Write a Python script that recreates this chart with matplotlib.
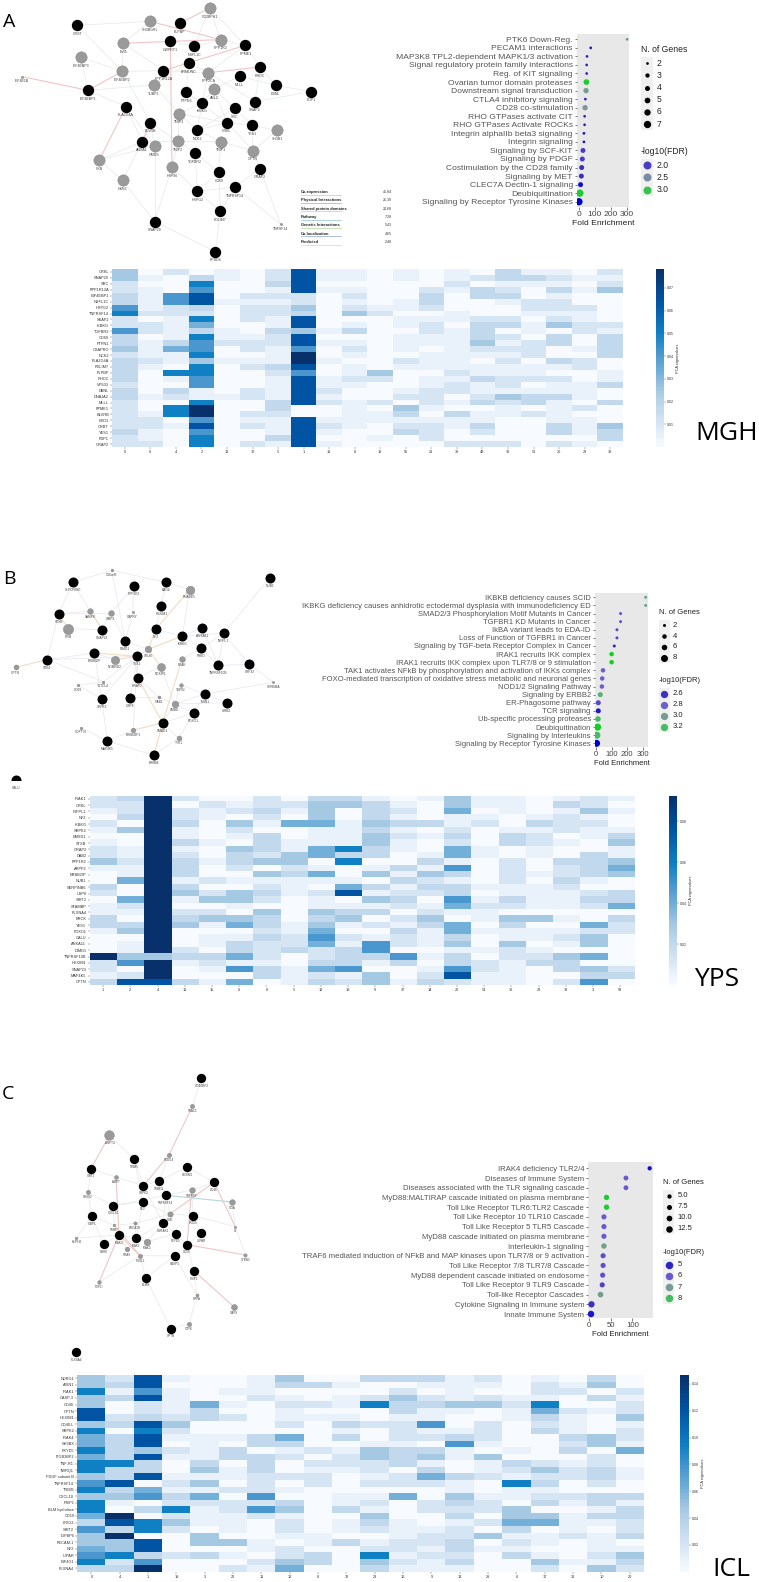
import numpy as np
import matplotlib
matplotlib.use('Agg')
import matplotlib.pyplot as plt
from matplotlib.colors import LinearSegmentedColormap, Normalize

plt.rcParams['font.family'] = ['Liberation Sans', 'DejaVu Sans']

W, H = 759, 1582

# heatmaps: one string per column, shade level 0-9 per row, top row first
MGH_GENES = ['CRKL', 'SNAP29', 'SRC', 'PPP1R12A', 'EIF4EBP1', 'NSFL1C', 'HSPG2', 'TNFRSF14', 'SKAP2', 'IKBKG',
             'TGFBR2', 'CD69', 'PTPN1', 'CSAPRO', 'NCK2', 'PLA2G4A', 'PDLIM7', 'PLPBP', 'RHOC', 'VPS33',
             'DBNL', 'DNAJA2', 'MLLL', 'PPME1', 'BLVRB', 'KXD1', 'CRBT', 'YES1', 'PDP1', 'GRAP2']
MGH_PCS = ['0', '6', '4', '2', '13', '17', '5', '1', '11', '8', '19', '55', '21', '39', '48', '30', '51', '26', '23', '38']
MGH_VALUES = ["44223 36722 63342 33332 33222 22322", "01011 11202 20111 21000 01001 22112",
              "20006 62211 11351 10710 32077 01000", "03768 83275 37667 47766 11799 68677",
              "11000 10000 11200 10000 01000 00000", "00002 12220 01220 12000 22002 12002",
              "22312 12211 32211 13211 11332 11131", "88882 24388 48869 98688 88800 88888",
              "11010 00000 10100 10011 21200 12101", "11012 12401 30121 01121 00111 11000",
              "00000 01200 00000 00420 00201 10010", "11000 11011 01110 21000 12043 12300",
              "00023 32012 21101 11011 22210 12220", "11210 00110 11111 11212 20103 11002",
              "02033 00023 33421 01131 12301 13202", "33123 10023 02121 21122 14211 00002",
              "13100 22101 10222 01120 13302 00000", "12131 22124 03300 31021 13111 13302",
              "01010 02112 20010 22001 11020 11101", "21240 00002 13333 00113 00300 04330"]

YPS_GENES = ['IRAK1', 'CRKL', 'INPPL1', 'NF2', 'IKBKG', 'SRPK2', 'EMSD1', 'STXB', 'GRAP2', 'DAB2',
             'PPP1R2', 'ARPP2', 'ERBB2IP', 'NUB1', 'SERPINB6', 'USP8', 'SIRT2', 'STAMBP', 'PLXNA4', 'BRCK',
             'YES1', 'FOXO1', 'CALU', 'ANXA11', 'DIMD1', 'TNFRSF10B', 'HEXIM1', 'SNAP23', 'MAP4K5', 'OPTN']
YPS_PCS = ['1', '2', '4', '11', '15', '6', '8', '5', '12', '19', '9', '37', '14', '20', '54', '36', '23', '33', '3', '59']
YPS_VALUES = ["22102 10122 41003 20113 31000 92213", "32230 40011 21150 05210 34011 46028",
              "99999 99999 99999 99999 99999 49998", "20223 11312 33313 41023 40002 31003",
              "02110 00100 10020 24024 10110 32101", "01204 21043 32010 44104 50133 51605",
              "22321 03332 40412 32043 32322 21330", "02105 00114 42311 10000 11223 00111",
              "34445 11155 01510 21143 45652 23523", "34001 11173 70015 80134 10213 33612",
              "13334 34433 01403 14130 20166 31044", "01213 12110 03131 23202 13220 63001",
              "10003 01001 31423 20124 31110 10123", "44511 23255 16313 36510 55341 33682",
              "11012 00011 00001 01211 01001 02211", "11100 13300 22221 13204 31142 21111",
              "00013 12211 00101 11104 01101 23000", "13122 20100 32232 11101 01210 43302",
              "22412 11003 33310 23200 52440 50436", "10100 13411 45400 33503 22000 00230"]

ICL_GENES = ['NDRG1', 'AXIN1', 'IRAK1', 'CASP-3', 'CD46', 'OPTN', 'HEXIM1', 'CD40-L', 'SRPK2', 'IRAK4',
             'SH3BX', 'FXYD5', 'ITGB3BP2', 'TNF-R1', 'TWRQ1', 'PDGF subunit B', 'TNFRSF14', 'TRIM5', 'CXCL10', 'PSIP1',
             'BLM hydrolase', 'CD59', 'LRIG3', 'SIRT2', 'IGFBP6', 'PECAM-1', 'NF2', 'U-PAR', 'EIF4G1', 'PLXNA4']
ICL_PCS = ['0', '4', '1', '19', '3', '22', '11', '12', '8', '32', '23', '16', '9', '13', '29', '6', '17', '31', '10', '20']
ICL_VALUES = ["44744 88475 57577 46747 75364 45673", "23130 02303 33373 38341 09839 44723",
              "88682 23878 84833 80560 30770 88369", "10111 12421 02100 12132 72420 00200",
              "00005 33001 11134 14152 11104 40300", "00101 02001 03301 10202 21110 40102",
              "11120 00003 30333 22262 62000 11021", "43012 11205 31200 20103 41221 02245",
              "03002 01000 02021 22000 00001 10330", "01011 01313 01221 00011 30110 30000",
              "30027 00200 14422 12012 14320 12743", "30243 31222 13330 22050 00111 22121",
              "31023 11612 03413 52002 20012 21211", "11114 10013 61100 31143 23122 33231",
              "21024 00222 10411 20012 20204 01000", "00012 11000 01032 17110 44531 21300",
              "12217 53230 00024 23123 04501 10142", "01200 21113 23012 20021 01112 00010",
              "34030 10004 40223 32033 13101 11214", "00212 24122 15001 10031 33223 01432"]

# shade level -> fraction of the colorbar maximum
SHADE_FRACTION = [0.0, 0.06, 0.13, 0.22, 0.32, 0.42, 0.52, 0.64, 0.82, 1.0]
SHADE_COLORS = ['#f7fbff', '#e9f2fb', '#d6e5f4', '#c2d8ec', '#a5c8e3', '#73b0d9', '#4a98cf', '#0f80c4', '#0054a3', '#08306b']

# enrichment dot plots
A_PATHWAYS = ['PTK6 Down-Reg.', 'PECAM1 interactions', 'MAP3K8 TPL2-dependent MAPK1/3 activation',
              'Signal regulatory protein family interactions', 'Reg. of KIT signaling', 'Ovarian tumor domain proteases',
              'Downstream signal transduction', 'CTLA4 inhibitory signaling', 'CD28 co-stimulation',
              'RHO GTPases activate CIT', 'RHO GTPases Activate ROCKs', 'Integrin alphaIIb beta3 signaling',
              'Integrin signaling', 'Signaling by SCF-KIT', 'Signaling by PDGF', 'Costimulation by the CD28 family',
              'Signaling by MET', 'CLEC7A Dectin-1 signaling', 'Deubiquitination', 'Signaling by Receptor Tyrosine Kinases']
A_FOLD = [300, 75, 52, 50, 50, 48, 46, 42, 40, 37, 37, 33, 33, 27, 23, 19, 17, 12, 8, 2]
A_GENES = [2, 2, 2, 2, 2, 5, 4.5, 2, 4.5, 2, 2, 2, 2, 4, 4, 4, 4, 4, 7, 7]
A_FDR = [2.5, 1.75, 1.8, 1.8, 1.8, 3.1, 2.6, 1.8, 2.55, 1.8, 1.8, 1.7, 1.7, 2.0, 2.0, 1.9, 1.9, 1.7, 3.1, 1.6]

B_PATHWAYS = ['IKBKB deficiency causes SCID', 'IKBKG deficiency causes anhidrotic ectodermal dysplasia with immunodeficiency ED',
              'SMAD2/3 Phosphorylation Motif Mutants in Cancer', 'TGFBR1 KD Mutants in Cancer', 'IkBA variant leads to EDA-ID',
              'Loss of Function of TGFBR1 in Cancer', 'Signaling by TGF-beta Receptor Complex in Cancer', 'IRAK1 recruits IKK complex',
              'IRAK1 recruits IKK complex upon TLR7/8 or 9 stimulation', 'TAK1 activates NFkB by phosphorylation and activation of IKKs complex',
              'FOXO-mediated transcription of oxidative stress metabolic and neuronal genes', 'NOD1/2 Signaling Pathway',
              'Signaling by ERBB2', 'ER-Phagosome pathway', 'TCR signaling', 'Ub-specific processing proteases', 'Deubiquitination',
              'Signaling by Interleukins', 'Signaling by Receptor Tyrosine Kinases']
B_FOLD = [317, 317, 157, 157, 134, 134, 117, 100, 100, 45, 40, 38, 28, 15, 15, 13, 11, 6, 4]
B_GENES = [2, 2, 2, 2, 2, 2, 2, 4, 4, 4, 4, 4, 5, 5, 5, 6, 8, 8, 8]
B_FDR = [3.1, 3.1, 2.75, 2.75, 2.7, 2.7, 2.55, 3.35, 3.35, 2.8, 2.8, 2.8, 3.15, 2.7, 2.5, 3.2, 3.35, 3.2, 2.35]

C_PATHWAYS = ['IRAK4 deficiency TLR2/4', 'Diseases of Immune System', 'Diseases associated with the TLR signaling cascade',
              'MyD88:MALTIRAP cascade initiated on plasma membrane', 'Toll Like Receptor TLR6:TLR2 Cascade',
              'Toll Like Receptor 10 TLR10 Cascade', 'Toll Like Receptor 5 TLR5 Cascade', 'MyD88 cascade initiated on plasma membrane',
              'Interleukin-1 signaling', 'TRAF6 mediated induction of NFkB and MAP kinases upon TLR7/8 or 9 activation',
              'Toll Like Receptor 7/8 TLR7/8 Cascade', 'MyD88 dependent cascade initiated on endosome',
              'Toll Like Receptor 9 TLR9 Cascade', 'Toll-like Receptor Cascades', 'Cytokine Signaling in Immune system', 'Innate Immune System']
C_FOLD = [140, 85, 85, 40, 40, 34, 34, 34, 34, 32, 32, 31, 30, 26, 5, 4]
C_GENES = [5, 7, 7, 9, 9, 8, 8, 8, 9, 8, 8, 8, 8, 10, 12, 13]
C_FDR = [4.6, 6.0, 6.0, 8.4, 8.4, 6.0, 6.0, 6.0, 7.2, 5.8, 5.8, 5.8, 5.5, 7.2, 5.2, 4.7]

FDR_COLORS = [(0.0, '#0000d0'), (0.2, '#3a30c0'), (0.4, '#6a5acd'), (0.62, '#7a9a98'), (0.88, '#40c05c'), (1.0, '#10d020')]

# gene network panels: coordinates
NET_A_NAMES = ['CRST', 'SH3BGRL', 'PLPBP', 'CD2BPH1', 'EVI5', 'CWPRY1', 'NSFL1C', 'PPP1R2', 'PPME1', 'EIF4EBP3',
               'EIF4EBP2', 'PPP1R12A', 'BRMUNC', 'PPP2CA', 'RHOC', 'MLLL', 'DBNL', 'PDP1', 'EIF4EBP1', 'EIF4E1B',
               'TUBP1', 'PTPN3', 'ABL2', 'IKBKG', 'SNAP2', 'SRC', 'PLA2G4A', 'TNIP3', 'CRKL', 'YES1',
               'SH3B1', 'BLVRB', 'NCK2', 'ANXA1', 'TNIP2', 'TNIP1', 'GMDS', 'OPTN', 'TGFBR2', 'CKB',
               'HSP90', 'CD69', 'GRAP2', 'HXN2', 'TNFRSF14', 'HSPG2', 'PDLIM7', 'TNFSF14', 'SNAP29', 'KPSD4']
NET_A_X = [232, 450, 539, 629, 370, 511, 583, 662, 736, 243, 367, 490, 567, 625, 780, 719, 827, 933, 264, 67,
           462, 558, 642, 607, 765, 705, 378, 537, 681, 757, 831, 451, 592, 427, 534, 662, 464, 759, 585, 298,
           516, 657, 779, 368, 706, 592, 661, 842, 464, 646]
NET_A_Y = [76, 64, 70, 24, 130, 124, 139, 119, 136, 172, 214, 212, 189, 218, 201, 229, 256, 275, 271, 230,
           255, 277, 267, 308, 305, 325, 320, 341, 368, 376, 391, 368, 390, 425, 424, 425, 438, 452, 459, 480,
           501, 516, 506, 541, 561, 574, 634, 673, 665, 755]
NET_A_QUERY = [1, 0, 1, 0, 0, 1, 1, 0, 1, 0, 0, 1, 1, 0, 1, 1, 1, 1, 1, 0,
               0, 1, 0, 1, 1, 1, 1, 0, 1, 1, 0, 1, 1, 1, 0, 0, 0, 0, 1, 0,
               0, 1, 1, 0, 1, 1, 1, 0, 1, 1]
NET_A_GRAY = [34, 34, 34, 34, 34, 34, 34, 34, 34, 34, 34, 34, 34, 34, 34, 34, 34, 34, 34, 7,
              34, 34, 34, 34, 34, 34, 34, 34, 34, 34, 34, 34, 34, 34, 34, 34, 34, 34, 34, 34,
              34, 34, 34, 34, 34, 34, 34, 7, 34, 34]
NET_A_EDGES = [('CRST', 'SH3BGRL'), ('CRST', 'EIF4EBP2'), ('EIF4EBP3', 'EIF4EBP1'), ('EIF4EBP3', 'EIF4EBP2'), ('EVI5', 'EIF4EBP2'),
               ('EVI5', 'PPP1R12A'), ('EIF4EBP2', 'PPP1R12A'), ('EIF4EBP1', 'PLA2G4A'), ('EIF4EBP2', 'BLVRB'), ('PLA2G4A', 'ANXA1'),
               ('PLA2G4A', 'GMDS'), ('SH3BGRL', 'EVI5'), ('CD2BPH1', 'NSFL1C'), ('CD2BPH1', 'PPME1'), ('CD2BPH1', 'PPP1R2'),
               ('PLPBP', 'CWPRY1'), ('PPP1R2', 'PPME1'), ('PPME1', 'PPP2CA'), ('PPME1', 'RHOC'), ('RHOC', 'DBNL'), ('RHOC', 'SNAP2'),
               ('DBNL', 'PDP1'), ('DBNL', 'MLLL'), ('SNAP2', 'PDP1'), ('MLLL', 'ABL2'), ('ABL2', 'IKBKG'), ('ABL2', 'SRC'), ('ABL2', 'CRKL'),
               ('IKBKG', 'PTPN3'), ('IKBKG', 'TNIP3'), ('IKBKG', 'NCK2'), ('TNIP3', 'NCK2'), ('TNIP3', 'CRKL'), ('TNIP3', 'TNIP2'),
               ('NCK2', 'TNIP1'), ('CRKL', 'NCK2'), ('CRKL', 'YES1'), ('CRKL', 'OPTN'), ('SRC', 'CRKL'), ('SRC', 'YES1'), ('SRC', 'NCK2'),
               ('YES1', 'SH3B1'), ('YES1', 'OPTN'), ('SH3B1', 'OPTN'), ('OPTN', 'GRAP2'), ('OPTN', 'TNIP1'), ('TNIP1', 'TNIP2'),
               ('TNIP1', 'CD69'), ('TNIP2', 'TGFBR2'), ('TNIP2', 'HSP90'), ('TGFBR2', 'HSPG2'), ('TGFBR2', 'CD69'), ('HSP90', 'HSPG2'),
               ('HSP90', 'SNAP29'), ('CD69', 'HSPG2'), ('CD69', 'PDLIM7'), ('TNFRSF14', 'HSPG2'), ('TNFRSF14', 'PDLIM7'), ('TNFRSF14', 'TNFSF14'),
               ('GRAP2', 'TNFRSF14'), ('GRAP2', 'TNFSF14'), ('HSPG2', 'PDLIM7'), ('PDLIM7', 'KPSD4'), ('SNAP29', 'KPSD4'), ('SNAP29', 'GMDS'),
               ('SNAP29', 'HXN2'), ('HXN2', 'CKB'), ('HXN2', 'ANXA1'), ('CKB', 'ANXA1'), ('CKB', 'GMDS'), ('BLVRB', 'TNIP2'), ('BLVRB', 'GMDS'),
               ('TUBP1', 'TNIP3'), ('TUBP1', 'BRMUNC'), ('PPP1R12A', 'PPP2CA'), ('BRMUNC', 'PPP2CA'), ('BRMUNC', 'PTPN3'), ('CWPRY1', 'NSFL1C'),
               ('NSFL1C', 'PPP1R2'), ('PPP2CA', 'IKBKG'), ('PPP2CA', 'SNAP2'), ('ANXA1', 'TNIP2'), ('PTPN3', 'CRKL'), ('EIF4EBP1', 'TUBP1')]
NET_A_STRONG = [('CKB', 'PLA2G4A'), ('EVI5', 'CWPRY1'), ('CWPRY1', 'PPP1R2'), ('SH3BGRL', 'PPP1R2'), ('PPME1', 'PPP1R12A'), ('PPP2CA', 'RHOC'),
                ('PLPBP', 'CD2BPH1'), ('CWPRY1', 'HSP90'), ('EIF4EBP1', 'EIF4E1B'), ('EIF4EBP2', 'EIF4EBP1'), ('BLVRB', 'ANXA1')]

NET_B_NAMES = ['C16orf5', 'SLFCPKB0', 'PPP1R2', 'BAG4', 'RNASE5', 'NUB1', 'HEXIM1', 'STXB', 'VAMP8', 'WBP2',
               'CAPRY', 'PPIB', 'SNAP23', 'NF2', 'ANXA11', 'INPPL1', 'IKBKG', 'DIMD1', 'PSKD', 'ERBB2IP',
               'STUB', 'STK4', 'OPTN', 'NDMRD2', 'YES1', 'NCKIP1', 'PEAK', 'TNFRSF10B', 'SRF33', 'GRAP2',
               'TGFBI', 'TXTCL4', 'CD69', 'SERBMA', 'SRPK2', 'USP8', 'GAB1', 'SMBD', 'MSN1', 'SIRB2',
               'FOXO1', 'SMAD1', 'ERBB3IP1', 'CDFT70', 'MAP4K5', 'TYK1', 'ERBB4', 'CALU']
NET_B_X = [335, 218, 401, 498, 569, 809, 484, 176, 271, 333, 398, 204, 307, 467, 606, 671, 547, 376, 603, 283,
           445, 141, 47, 345, 412, 482, 546, 655, 748, 413, 543, 310, 235, 820, 305, 391, 477, 524, 615, 680,
           581, 488, 400, 244, 322, 536, 461, 47]
NET_B_Y = [61, 97, 109, 97, 119, 84, 167, 192, 183, 190, 187, 236, 239, 238, 233, 250, 258, 274, 295, 309,
           298, 329, 352, 330, 319, 350, 327, 346, 343, 383, 405, 395, 406, 397, 447, 443, 442, 462, 432, 458,
           489, 519, 540, 533, 573, 564, 616, 690]
NET_B_QUERY = [0, 1, 1, 1, 0, 1, 1, 1, 0, 0, 0, 0, 1, 1, 1, 1, 1, 1, 1, 1,
               0, 1, 0, 0, 1, 0, 0, 1, 1, 1, 0, 0, 0, 0, 1, 1, 0, 0, 1, 1,
               1, 1, 0, 0, 1, 0, 1, 1]
NET_B_GRAY = [8, 30, 30, 30, 26, 30, 30, 30, 17, 17, 7, 31, 30, 30, 30, 30, 30, 30, 30, 30,
              20, 30, 15, 25, 30, 24, 17, 30, 30, 30, 11, 8, 8, 7, 30, 30, 9, 20, 30, 30,
              30, 30, 14, 8, 30, 15, 30, 30]
NET_B_EDGES = [('C16orf5', 'SLFCPKB0'), ('C16orf5', 'BAG4'), ('C16orf5', 'DIMD1'), ('SLFCPKB0', 'STXB'), ('SLFCPKB0', 'VAMP8'), ('STXB', 'VAMP8'),
               ('STXB', 'WBP2'), ('STXB', 'STK4'), ('VAMP8', 'SNAP23'), ('WBP2', 'SNAP23'), ('WBP2', 'DIMD1'), ('WBP2', 'PPP1R2'), ('PPP1R2', 'CAPRY'),
               ('CAPRY', 'DIMD1'), ('PPIB', 'SNAP23'), ('BAG4', 'HEXIM1'), ('BAG4', 'RNASE5'), ('HEXIM1', 'NF2'), ('NF2', 'IKBKG'), ('RNASE5', 'IKBKG'),
               ('NUB1', 'INPPL1'), ('INPPL1', 'IKBKG'), ('INPPL1', 'PSKD'), ('INPPL1', 'TNFRSF10B'), ('INPPL1', 'SRF33'), ('ANXA11', 'IKBKG'),
               ('ANXA11', 'TNFRSF10B'), ('IKBKG', 'PSKD'), ('PSKD', 'PEAK'), ('PSKD', 'TNFRSF10B'), ('TNFRSF10B', 'SRF33'), ('SRF33', 'SERBMA'),
               ('SERBMA', 'MSN1'), ('ERBB2IP', 'NDMRD2'), ('STK4', 'ERBB2IP'), ('STK4', 'TXTCL4'), ('STK4', 'YES1'), ('DIMD1', 'STUB'), ('NCKIP1', 'GRAP2'),
               ('YES1', 'GRAP2'), ('GRAP2', 'GAB1'), ('TXTCL4', 'CD69'), ('TXTCL4', 'YES1'), ('CD69', 'SRPK2'), ('SRPK2', 'YES1'), ('SRPK2', 'MAP4K5'),
               ('USP8', 'GAB1'), ('USP8', 'YES1'), ('GAB1', 'SMBD'), ('NCKIP1', 'SMBD'), ('TGFBI', 'MSN1'), ('TGFBI', 'SMBD'), ('SMBD', 'MSN1'),
               ('SMBD', 'SIRB2'), ('SMBD', 'FOXO1'), ('SMBD', 'SMAD1'), ('MSN1', 'SIRB2'), ('MSN1', 'FOXO1'), ('SMAD1', 'FOXO1'), ('SMAD1', 'TYK1'),
               ('CDFT70', 'MAP4K5'), ('MAP4K5', 'ERBB3IP1'), ('MAP4K5', 'ERBB4'), ('ERBB4', 'TYK1'), ('ERBB3IP1', 'YES1'), ('FOXO1', 'TYK1'), ('ERBB2IP', 'SRPK2')]
NET_B_STRONG = [('RNASE5', 'NF2'), ('NF2', 'STUB'), ('STUB', 'YES1'), ('ERBB2IP', 'YES1'), ('NDMRD2', 'YES1'), ('STUB', 'NCKIP1'), ('STUB', 'IKBKG'),
                ('GRAP2', 'SMAD1'), ('PEAK', 'SMAD1'), ('SMAD1', 'ERBB4'), ('SMAD1', 'ERBB3IP1'), ('STXB', 'PPIB'), ('VAMP8', 'SNAP23'), ('STK4', 'OPTN')]

NET_C_NAMES = ['ITGB3BP2', 'TRAC1', 'ANPT4', 'TRIM5', 'PEDG4', 'HEXIM1', 'SIRT2', 'ABPT', 'TRIM11', 'CD46',
               'SRPK2', 'SRSS2', 'TNFRSF', 'TNFRSF14', 'ITGA', 'NF2', 'CXCL10', 'IGBP1', 'UNK', 'LRIG3',
               'TWEAK1', 'BRCA2H', 'TRIM7', 'LY', 'KLIPH2', 'IRAK4', 'FXYD5', 'U-PAR', 'IRAK1', 'IRAK2',
               'RSRK', 'CD59', 'RRAS', 'PSGL1', 'CASP1', 'VTBN3', 'PSIP1', 'BLMH', 'TOPLI', 'OPPA',
               'GAPS', 'OTYK', 'OPTN', 'PLXNA4']
NET_C_X = [604, 577, 328, 403, 507, 561, 273, 348, 477, 642, 430, 264, 575, 498, 695, 428, 339, 275, 510, 580,
           489, 405, 343, 706, 229, 357, 527, 604, 409, 442, 312, 561, 381, 420, 524, 736, 582, 437, 297, 590,
           701, 568, 512, 229]
NET_C_Y = [84, 169, 256, 327, 315, 351, 356, 381, 393, 397, 407, 427, 420, 436, 456, 455, 467, 499, 492, 497,
           519, 520, 526, 530, 564, 555, 551, 549, 565, 575, 583, 584, 598, 617, 618, 615, 663, 683, 697, 735,
           770, 821, 836, 907]
NET_C_QUERY = [1, 0, 0, 1, 0, 1, 1, 0, 1, 1, 1, 0, 0, 1, 0, 1, 1, 1, 0, 1,
               1, 0, 0, 0, 0, 1, 1, 1, 1, 0, 1, 1, 0, 0, 1, 0, 1, 1, 0, 0,
               0, 0, 1, 1]
NET_C_GRAY = [28, 13, 29, 28, 13, 28, 28, 12, 28, 28, 28, 13, 17, 28, 17, 28, 28, 28, 16, 28,
              28, 10, 8, 7, 8, 28, 28, 28, 28, 20, 28, 28, 14, 13, 28, 10, 28, 28, 11, 9,
              18, 13, 28, 28]
NET_C_EDGES = [('ITGB3BP2', 'TRAC1'), ('ANPT4', 'TRIM5'), ('TRIM5', 'SRPK2'), ('TRIM5', 'NF2'), ('SIRT2', 'ABPT'), ('SIRT2', 'SRSS2'), ('ABPT', 'SRPK2'),
               ('SRSS2', 'IGBP1'), ('SRSS2', 'CXCL10'), ('IGBP1', 'TRIM7'), ('IGBP1', 'RSRK'), ('KLIPH2', 'IGBP1'), ('KLIPH2', 'IRAK4'), ('RSRK', 'IRAK4'),
               ('PEDG4', 'TRIM11'), ('HEXIM1', 'TRIM11'), ('HEXIM1', 'CD46'), ('TRIM11', 'SRPK2'), ('TRIM11', 'TNFRSF14'), ('TNFRSF', 'TNFRSF14'),
               ('TNFRSF', 'CD46'), ('TNFRSF', 'LRIG3'), ('TNFRSF14', 'UNK'), ('NF2', 'UNK'), ('NF2', 'CXCL10'), ('CXCL10', 'TRIM7'), ('CXCL10', 'TNFRSF14'),
               ('UNK', 'LRIG3'), ('UNK', 'TWEAK1'), ('LRIG3', 'U-PAR'), ('TWEAK1', 'FXYD5'), ('FXYD5', 'CD59'), ('FXYD5', 'IRAK2'), ('U-PAR', 'CD59'),
               ('LY', 'LRIG3'), ('ITGA', 'LY'), ('LY', 'VTBN3'), ('IRAK1', 'IRAK2'), ('IRAK1', 'IRAK4'), ('IRAK1', 'BRCA2H'), ('BRCA2H', 'UNK'),
               ('IRAK2', 'TWEAK1'), ('PSGL1', 'BLMH'), ('PSGL1', 'CASP1'), ('BLMH', 'OPTN'), ('BLMH', 'CASP1'), ('CASP1', 'OPPA'), ('CD59', 'PSIP1'),
               ('PSIP1', 'OPPA'), ('OPPA', 'OTYK'), ('OTYK', 'OPTN'), ('TOPLI', 'PSGL1'), ('RRAS', 'IRAK4'), ('RRAS', 'IRAK1'), ('TRIM7', 'BRCA2H'),
               ('TWEAK1', 'IRAK1'), ('SRPK2', 'TWEAK1'), ('TNFRSF14', 'TWEAK1'), ('NF2', 'IRAK1')]
NET_C_STRONG = [('TRAC1', 'PEDG4'), ('PEDG4', 'SRPK2'), ('ANPT4', 'SIRT2'), ('ABPT', 'IRAK4'), ('IRAK4', 'TOPLI'), ('CD46', 'UNK'), ('TNFRSF', 'CD59'),
                ('CD59', 'VTBN3'), ('PSIP1', 'GAPS'), ('CD46', 'LY'), ('IRAK4', 'PSGL1'), ('TRIM7', 'PSGL1')]
NET_C_TEAL = [('TNFRSF14', 'ITGA')]

# GeneMANIA style legend in panel A
NET_TYPES = ['Co-expression', 'Physical Interactions', 'Shared protein domains', 'Pathway', 'Genetic Interactions', 'Co-localization', 'Predicted']
NET_WEIGHTS = ['45.84', '26.39', '24.68', '7.28', '5.43', '4.65', '2.48']
NET_TYPE_COLORS = ['#d8b8e0', '#e89090', '#d8c8a0', '#90c0e0', '#b0d8a0', '#90a8d8', '#f0d890']


def px_axes(fig, x0, y0, x1, y1):
    # axes from pixel box, y measured from the top of the picture
    return fig.add_axes([x0 / W, 1 - y1 / H, (x1 - x0) / W, (y1 - y0) / H])


def px_to_pt(d):
    return (d * 0.72) ** 2


def draw_network(fig, box, xlim, ylim, names, xs, ys, query, gray, edges, strong, edge_color, strong_color, teal=(), label_size=2.6):
    ax = px_axes(fig, *box)
    ax.set_xlim(*xlim)
    ax.set_ylim(*ylim)
    ax.axis('off')
    ax.patch.set_alpha(0)
    pos = {n: (x, y) for n, x, y in zip(names, xs, ys)}
    for a, b in edges:
        ax.plot([pos[a][0], pos[b][0]], [pos[a][1], pos[b][1]], color=edge_color, lw=0.5, zorder=1)
    for a, b in strong:
        ax.plot([pos[a][0], pos[b][0]], [pos[a][1], pos[b][1]], color=strong_color, lw=0.8, zorder=2)
    for a, b in teal:
        ax.plot([pos[a][0], pos[b][0]], [pos[a][1], pos[b][1]], color='#b4dadd', lw=0.8, zorder=2)
    scale = (box[2] - box[0]) / (xlim[1] - xlim[0])
    for n, x, y, q, g in zip(names, xs, ys, query, gray):
        d = g * scale
        if q:
            ax.scatter(x, y, s=px_to_pt(d), color='black', linewidths=0, zorder=3)
        else:
            ax.scatter(x, y, s=px_to_pt(d), color='#9a9a9a', edgecolors='#808080', linewidths=0.3, zorder=3)
        ax.text(x, y + g * 0.5 + 3, n, fontsize=label_size, color='#444444', ha='center', va='top', zorder=4)
    return ax


def draw_heatmap(fig, box, cbar_box, genes, pcs, values, vmax, cticks, ctick_fmt, cmap):
    rows = [s.replace(' ', '') for s in values]
    data = np.array([[SHADE_FRACTION[int(c)] * vmax for c in col] for col in rows]).T
    ax = px_axes(fig, *box)
    im = ax.imshow(data, aspect='auto', cmap=cmap, vmin=0, vmax=vmax, interpolation='nearest')
    ax.set_xticks(np.arange(len(pcs)))
    ax.set_xticklabels(pcs, fontsize=2.8, color='#333333')
    ax.set_yticks(np.arange(len(genes)))
    ax.set_yticklabels(genes, fontsize=2.8, color='#333333')
    ax.tick_params(length=1.2, width=0.3, pad=1, color='#555555')
    for s in ax.spines.values():
        s.set_visible(False)
    cax = px_axes(fig, *cbar_box)
    cb = fig.colorbar(im, cax=cax)
    cb.set_ticks(cticks)
    cb.set_ticklabels([ctick_fmt % t for t in cticks])
    cb.ax.tick_params(length=1.2, width=0.3, pad=1, labelsize=2.6, labelcolor='#333333', color='#555555')
    cb.outline.set_visible(False)
    cb.set_label('PCA eigenvalues', fontsize=2.8, labelpad=1.5, color='#333333')
    return ax


def draw_dots(fig, box, pathways, fold, genes, fdr, xlim, xticks, ylim, norm, cmap, size_vals, size_d, fs, xlabel_pad):
    ax = px_axes(fig, *box)
    ax.set_facecolor('#e8e8e8')
    n = len(pathways)
    y = np.arange(n)
    d = np.interp(genes, size_vals, size_d)
    ax.scatter(fold, y, s=px_to_pt(d), c=cmap(norm(np.array(fdr))), linewidths=0, zorder=3)
    ax.set_xlim(*xlim)
    ax.set_ylim(n - 1 + ylim[1], -ylim[0])
    ax.set_yticks(y)
    ax.set_yticklabels(pathways, fontsize=fs, color='#555555')
    ax.set_xticks(xticks)
    ax.set_xticklabels([str(t) for t in xticks], fontsize=fs, color='#444444')
    ax.tick_params(length=1.8, width=0.5, pad=1.2, color='#444444')
    ax.set_xlabel('Fold Enrichment', fontsize=fs, color='#222222', labelpad=xlabel_pad)
    for s in ax.spines.values():
        s.set_visible(False)
    return ax


def draw_legend(over, x, title_y, keys_y, step, size_vals, size_d, size_labels, fdr_title_y, fdr_keys_y, fdr_step,
                fdr_vals, fdr_labels, norm, cmap, fdr_d, fs):
    key = step
    over.text(x, title_y, 'N. of Genes', fontsize=fs, color='#222222', va='center', ha='left')
    over.add_patch(plt.Rectangle((x, keys_y), key, step * len(size_vals), color='#f0f0f0', lw=0))
    for i, (d, lab) in enumerate(zip(size_d, size_labels)):
        yy = keys_y + step * (i + 0.5)
        over.scatter(x + key / 2, yy, s=px_to_pt(d), color='black', linewidths=0)
        over.text(x + key + 3.5, yy, lab, fontsize=fs, color='#222222', va='center')
    over.text(x, fdr_title_y, '-log10(FDR)', fontsize=fs, color='#222222', va='center', ha='left')
    over.add_patch(plt.Rectangle((x, fdr_keys_y), key, fdr_step * len(fdr_vals), color='#f0f0f0', lw=0))
    for i, (v, lab) in enumerate(zip(fdr_vals, fdr_labels)):
        yy = fdr_keys_y + fdr_step * (i + 0.5)
        over.scatter(x + key / 2, yy, s=px_to_pt(fdr_d), color=cmap(norm(v)), linewidths=0)
        over.text(x + key + 3.5, yy, lab, fontsize=fs, color='#222222', va='center')


def main():
    fig = plt.figure(figsize=(W / 100, H / 100), dpi=100, facecolor='white')

    heat_cmap = LinearSegmentedColormap.from_list('pca', list(zip(SHADE_FRACTION, SHADE_COLORS)))
    fdr_cmap = LinearSegmentedColormap.from_list('fdr', FDR_COLORS)

    over = fig.add_axes([0, 0, 1, 1])
    over.set_xlim(0, W)
    over.set_ylim(H, 0)
    over.axis('off')

    # networks
    draw_network(fig, (0, 0, 380, 265), (0, 1140), (795, 0), NET_A_NAMES, NET_A_X, NET_A_Y, NET_A_QUERY, NET_A_GRAY,
                 NET_A_EDGES, NET_A_STRONG, '#e2ebe3', '#f0c6c6')
    draw_network(fig, (0, 550, 300, 780), (0, 900), (690, 0), NET_B_NAMES, NET_B_X, NET_B_Y, NET_B_QUERY, NET_B_GRAY,
                 NET_B_EDGES, NET_B_STRONG, '#e6e6ef', '#f5dcc0', label_size=2.3)
    draw_network(fig, (0, 1050, 300, 1360), (0, 900), (930, 0), NET_C_NAMES, NET_C_X, NET_C_Y, NET_C_QUERY, NET_C_GRAY,
                 NET_C_EDGES, NET_C_STRONG, '#e2ebe3', '#f0c6c6', teal=NET_C_TEAL, label_size=2.2)

    # network legend with weights
    for i, (t, w, c) in enumerate(zip(NET_TYPES, NET_WEIGHTS, NET_TYPE_COLORS)):
        yy = 192 + i * 8.35
        over.text(301, yy, t, fontsize=2.9, fontweight='bold', color='#222222', va='center')
        over.plot([301, 341], [yy + 2.6, yy + 2.6], color=c, lw=0.5)
        over.text(392, yy, w, fontsize=2.6, color='#333333', va='center', ha='right')

    # dot plots
    a_norm = Normalize(1.6, 3.15)
    draw_dots(fig, (577, 34, 629, 206.7), A_PATHWAYS, A_FOLD, A_GENES, A_FDR, (-10, 312), [0, 100, 200, 300], (0.62, 0.58), a_norm, fdr_cmap,
              [2, 3, 4, 5, 6, 7], [2.7, 4.3, 5, 5.7, 6.3, 7.3], 6.1, 1.5)
    draw_legend(over, 640.7, 50, 57, 12.2, [2, 3, 4, 5, 6, 7], [2.7, 4.3, 5, 5.7, 6.3, 7.3], ['2', '3', '4', '5', '6', '7'],
                151, 159, 12.2, [2.0, 2.5, 3.0], ['2.0', '2.5', '3.0'], a_norm, fdr_cmap, 8, 6.2)

    b_norm = Normalize(2.4, 3.35)
    draw_dots(fig, (595, 592.7, 648, 747.3), B_PATHWAYS, B_FOLD, B_GENES, B_FDR, (-6, 332), [0, 100, 200, 300], (0.57, 0.49), b_norm, fdr_cmap,
              [2, 4, 6, 8], [3, 4.5, 5.5, 7], 5.5, 1.2)
    draw_legend(over, 658.7, 612, 620, 10.8, [2, 4, 6, 8], [3, 4.5, 5.5, 7], ['2', '4', '6', '8'],
                681, 688.3, 11, [2.6, 2.8, 3.0, 3.2], ['2.6', '2.8', '3.0', '3.2'], b_norm, fdr_cmap, 7.3, 5.5)

    c_norm = Normalize(4.3, 8.6)
    draw_dots(fig, (588.3, 1162, 652.7, 1318.3), C_PATHWAYS, C_FOLD, C_GENES, C_FDR, (-2.3, 147), [0, 50, 100], (0.65, 0.44), c_norm, fdr_cmap,
              [5, 7.5, 10, 12.5], [4.3, 5, 5.7, 6.5], 5.55, 1.2)
    draw_legend(over, 663, 1182, 1190, 11, [5, 7.5, 10, 12.5], [4.3, 5, 5.7, 6.5], ['5.0', '7.5', '10.0', '12.5'],
                1252, 1259.3, 11.1, [5, 6, 7, 8], ['5', '6', '7', '8'], c_norm, fdr_cmap, 7.5, 5.5)

    # heatmaps
    draw_heatmap(fig, (112, 269, 623, 447), (656, 269, 664, 447), MGH_GENES, MGH_PCS, MGH_VALUES, 0.0783,
                 [0.01, 0.02, 0.03, 0.04, 0.05, 0.06, 0.07], '%.2f', heat_cmap)
    draw_heatmap(fig, (89.5, 795.7, 634, 985), (668.7, 795.7, 677.3, 985), YPS_GENES, YPS_PCS, YPS_VALUES, 0.0924,
                 [0.02, 0.04, 0.06, 0.08], '%.2f', heat_cmap)
    draw_heatmap(fig, (77.3, 1375, 644, 1571.7), (680, 1375, 689, 1571.7), ICL_GENES, ICL_PCS, ICL_VALUES, 0.1467,
                 [0.02, 0.04, 0.06, 0.08, 0.10, 0.12, 0.14], '%.2f', heat_cmap)

    # panel letters and cohort names on top of everything
    top = fig.add_axes([0, 0, 1, 1])
    top.set_xlim(0, W)
    top.set_ylim(H, 0)
    top.axis('off')
    top.patch.set_alpha(0)
    for letter, x, y in [('A', 3, 22), ('B', 3, 579), ('C', 2, 1094)]:
        top.text(x, y, letter, fontsize=14, family=['Open Sans', 'DejaVu Sans'], color='black', va='center', ha='left')
    for name, x, y in [('MGH', 695, 434), ('YPS', 694, 979), ('ICL', 712, 1570)]:
        top.text(x, y, name, fontsize=19, family=['Open Sans', 'DejaVu Sans'], color='black', va='center', ha='left')

    fig.savefig('out.png', dpi=100, facecolor='white')


if __name__ == '__main__':
    main()
